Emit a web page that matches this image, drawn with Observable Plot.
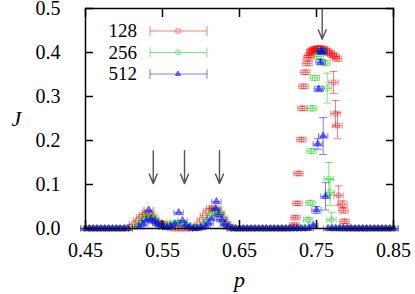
<!DOCTYPE html>
<html><head><meta charset="utf-8">
<script src="https://cdn.jsdelivr.net/npm/d3@7"></script>
<script src="https://cdn.jsdelivr.net/npm/@observablehq/plot@0.6"></script>
<style>body{margin:0;background:#fff}#chart{width:415px;height:294px}#chart svg text{font-family:"Liberation Serif","DejaVu Serif",serif !important}</style>
</head><body><div id="chart"></div>
<script>
const xTicks = [0.45, 0.55, 0.65, 0.75, 0.85];
const yTicks = [0, 0.1, 0.2, 0.3, 0.4, 0.5];
const sizes = ["128", "256", "512"];
const colors = ["#ff0000", "#00d000", "#0000ff"];

// p values where J = 0 for all three sizes
const zeroP = [0.450,0.455,0.460,0.465,0.470,0.475,0.480,0.485,0.490,0.495,0.500,0.505,
  0.640,0.645,0.650,0.655,0.660,0.665,0.670,0.675,0.680,0.685,0.690,0.695,0.700,0.705,0.710,0.715,
  0.790,0.795,0.800,0.805,0.810,0.815,0.820,0.825,0.830,0.835,0.840,0.845,0.850];

// size 128: small peaks
const pS128 = [0.508,0.513,0.518,0.522,0.526,0.530,0.534,0.538,0.542,0.546,0.550,0.554,0.558,0.563,0.568,0.573,0.578,0.583,0.588,0.593,0.597,0.601,0.605,0.609,0.613,0.617,0.621,0.625,0.629,0.633,0.637];
const JS128 = [0.004,0.010,0.018,0.026,0.032,0.036,0.033,0.025,0.016,0.010,0.012,0.010,0.005,0,0,0,0,0,0,0.004,0.010,0.020,0.030,0.040,0.046,0.047,0.042,0.032,0.020,0.010,0.004];
// size 128: main peak
const pM128 = [0.7205,0.7214,0.7227,0.7253,0.7266,0.7305,0.7318,0.7331,0.7357,0.7383,0.7395,0.7409,0.743,0.7445,0.746,0.7475,0.749,0.752,0.755,0.758,0.761,0.764,0.767,0.770,0.7735,0.777,0.7721,0.7747,0.7773,0.7786,0.7838,0.7851,0.7864,0.7877];
const JM128 = [0.003,0.009,0.025,0.057,0.125,0.202,0.273,0.323,0.355,0.375,0.388,0.393,0.401,0.403,0.405,0.407,0.408,0.409,0.409,0.408,0.406,0.403,0.399,0.395,0.391,0.386,0.332,0.261,0.234,0.075,0.055,0.041,0.016,0.006];
const eM128 = [0,0.003,0.004,0.005,0.005,0.005,0.005,0.005,0.005,0.005,0.005,0.005,0.006,0.006,0.006,0.006,0.006,0.006,0.006,0.006,0.006,0.006,0.006,0.006,0.006,0.006,0.025,0.03,0.03,0.022,0.008,0.006,0.005,0];

// size 256
const pS256 = [0.515,0.520,0.524,0.528,0.532,0.536,0.540,0.544,0.548,0.552,0.556,0.561,0.566,0.571,0.576,0.581,0.586,0.591,0.596,0.600,0.604,0.608,0.612,0.616,0.620,0.624,0.628,0.632,0.636];
const JS256 = [0.004,0.010,0.018,0.026,0.031,0.028,0.020,0.012,0.005,0.003,0.006,0.012,0.014,0.013,0.011,0.008,0.005,0.002,0.002,0.004,0.010,0.020,0.030,0.038,0.043,0.036,0.024,0.012,0.005];
const pM256 = [0.720,0.725,0.730,0.735,0.7392,0.7422,0.7435,0.7444,0.7478,0.753,0.7555,0.758,0.7617,0.7639,0.766,0.7675,0.7695,0.773,0.777,0.781,0.785];
const JM256 = [0,0,0,0.003,0.020,0.058,0.176,0.273,0.342,0.391,0.402,0.401,0.376,0.319,0.113,0.082,0.020,0.003,0,0,0];
const eM256 = [0,0,0,0,0.005,0.006,0.006,0.006,0.006,0.006,0.006,0.006,0.006,0.034,0.037,0.03,0.017,0,0,0,0];

// size 512
const pS512 = [0.520,0.525,0.529,0.532,0.535,0.539,0.543,0.547,0.551,0.556,0.561,0.566,0.571,0.576,0.580,0.585,0.590,0.595,0.600,0.606,0.610,0.614,0.619,0.620,0.623,0.627,0.631,0.635];
const JS512 = [0.004,0.010,0.018,0.042,0.022,0.017,0.012,0.008,0.004,0.002,0.004,0.010,0.036,0.018,0.008,0.003,0,0,0.002,0.005,0.012,0.022,0.045,0.061,0.032,0.020,0.010,0.004];
const pM512 = [0.720,0.725,0.730,0.735,0.740,0.746,0.750,0.7517,0.753,0.7552,0.7565,0.7574,0.7587,0.7617,0.765,0.770,0.775,0.780,0.785];
const JM512 = [0,0,0,0,0,0.007,0.042,0.192,0.317,0.378,0.404,0.401,0.210,0.073,0,0,0,0,0];
const eM512 = [0,0,0,0,0,0.003,0.008,0.012,0.006,0.006,0.005,0.005,0.042,0.031,0,0,0,0,0];

const pErr = 0.006; // horizontal error half-width

// arrows
const arrowP = [0.538, 0.5786, 0.624, 0.7574];
const arrowFrom = [0.177, 0.177, 0.177, 0.5];
const arrowTo = [0.102, 0.102, 0.102, 0.43];

function rowsOf(pS, JS, pM, JM, eM) {
  return zeroP.map(p => ({p, J: 0, e: 0}))
    .concat(pS.map((p, i) => ({p, J: JS[i], e: 0})))
    .concat(pM.map((p, i) => ({p, J: JM[i], e: eM[i] || 0})));
}
const series = [
  rowsOf(pS128, JS128, pM128, JM128, eM128),
  rowsOf(pS256, JS256, pM256, JM256, eM256),
  rowsOf(pS512, JS512, pM512, JM512, eM512)
];

const vbar = {draw(ctx, size) { const r = Math.sqrt(size / Math.PI); ctx.moveTo(0, -r); ctx.lineTo(0, r); }};
const hbar = {draw(ctx, size) { const r = Math.sqrt(size / Math.PI); ctx.moveTo(-r, 0); ctx.lineTo(r, 0); }};
const symbols = ["square", "circle", "triangle"];
const op = 0.5;

function seriesMarks(rows, k) {
  const c = colors[k];
  const withE = rows.filter(d => d.e > 0);
  const sw = 1;
  return [
    Plot.ruleY(rows, {y: "J", x1: d => d.p - pErr, x2: d => d.p + pErr, stroke: c, strokeOpacity: op, strokeWidth: sw}),
    Plot.dot(rows, {x: d => d.p - pErr, y: "J", symbol: vbar, r: 3, fill: "none", stroke: c, strokeOpacity: op, strokeWidth: sw}),
    Plot.dot(rows, {x: d => d.p + pErr, y: "J", symbol: vbar, r: 3, fill: "none", stroke: c, strokeOpacity: op, strokeWidth: sw}),
    Plot.ruleX(withE, {x: "p", y1: d => d.J - d.e, y2: d => d.J + d.e, stroke: c, strokeOpacity: op, strokeWidth: sw}),
    Plot.dot(withE, {x: "p", y: d => d.J - d.e, symbol: hbar, r: 4, fill: "none", stroke: c, strokeOpacity: op, strokeWidth: sw}),
    Plot.dot(withE, {x: "p", y: d => d.J + d.e, symbol: hbar, r: 4, fill: "none", stroke: c, strokeOpacity: op, strokeWidth: sw}),
    Plot.dot(rows, {x: "p", y: "J", symbol: symbols[k], r: 2.6,
      fill: k === 2 ? c : "none", fillOpacity: op, stroke: c, strokeOpacity: op, strokeWidth: sw})
  ];
}

const font = "'Liberation Serif', 'DejaVu Serif', serif";
const plot = Plot.plot({
  width: 415, height: 294,
  marginLeft: 85, marginRight: 22, marginTop: 8, marginBottom: 66,
  x: {domain: [0.45, 0.85]},
  y: {domain: [0, 0.5]},
  style: {fontFamily: font, fontSize: "20px", background: "white", color: "black", overflow: "visible"},
  marks: [
    ...series.flatMap((rows, k) => seriesMarks(rows, k)),
    Plot.arrow(arrowP.map((p, i) => i), {
      x1: i => arrowP[i], x2: i => arrowP[i], y1: i => arrowFrom[i], y2: i => arrowTo[i],
      stroke: "#555", strokeWidth: 1.4, headLength: 11, headAngle: 45
    }),
    Plot.frame({stroke: "black", strokeWidth: 1.5}),
    Plot.axisX({anchor: "bottom", ticks: xTicks, tickSize: -8, tickPadding: 22, tickFormat: d => d.toFixed(2), fontSize: 20, strokeWidth: 1.5, label: null}),
    Plot.axisX({anchor: "top", ticks: xTicks, tickSize: -8, tickFormat: () => "", strokeWidth: 1.5, label: null}),
    Plot.axisY({anchor: "left", ticks: yTicks, tickSize: -8, tickPadding: 33, tickFormat: d => d.toFixed(1), fontSize: 20, strokeWidth: 1.5, label: null}),
    Plot.axisY({anchor: "right", ticks: yTicks, tickSize: -8, tickFormat: () => "", strokeWidth: 1.5, label: null}),
    Plot.text(["p"], {frameAnchor: "bottom", dy: 58, fontStyle: "italic", fontSize: 22}),
    Plot.text(["J"], {frameAnchor: "left", dx: -74, fontStyle: "italic", fontSize: 22})
  ]
});
document.getElementById("chart").appendChild(plot);

// legend (inside plot, top-left)
const svg = d3.select(plot);
const lg = svg.append("g").attr("font-size", 19);
const sym = [d3.symbolSquare, d3.symbolCircle, d3.symbolTriangle];
sizes.forEach((s, k) => {
  const y = 31 + k * 21.5;
  const c = colors[k];
  lg.append("text").attr("x", 137).attr("y", y + 6).attr("text-anchor", "end").attr("fill", "black").text(s);
  const g = lg.append("g").attr("stroke", c).attr("stroke-opacity", op).attr("fill", "none");
  g.append("line").attr("x1", 150).attr("x2", 207).attr("y1", y).attr("y2", y);
  g.append("line").attr("x1", 150).attr("x2", 150).attr("y1", y - 5).attr("y2", y + 5);
  g.append("line").attr("x1", 207).attr("x2", 207).attr("y1", y - 5).attr("y2", y + 5);
  g.append("path").attr("transform", `translate(178,${y})`)
    .attr("d", d3.symbol(sym[k], k === 2 ? 12 : 18)())
    .attr("fill", k === 2 ? c : "none").attr("fill-opacity", op);
});
svg.selectAll("text").attr("font-family", font).style("font-family", font);
</script>
</body></html>
